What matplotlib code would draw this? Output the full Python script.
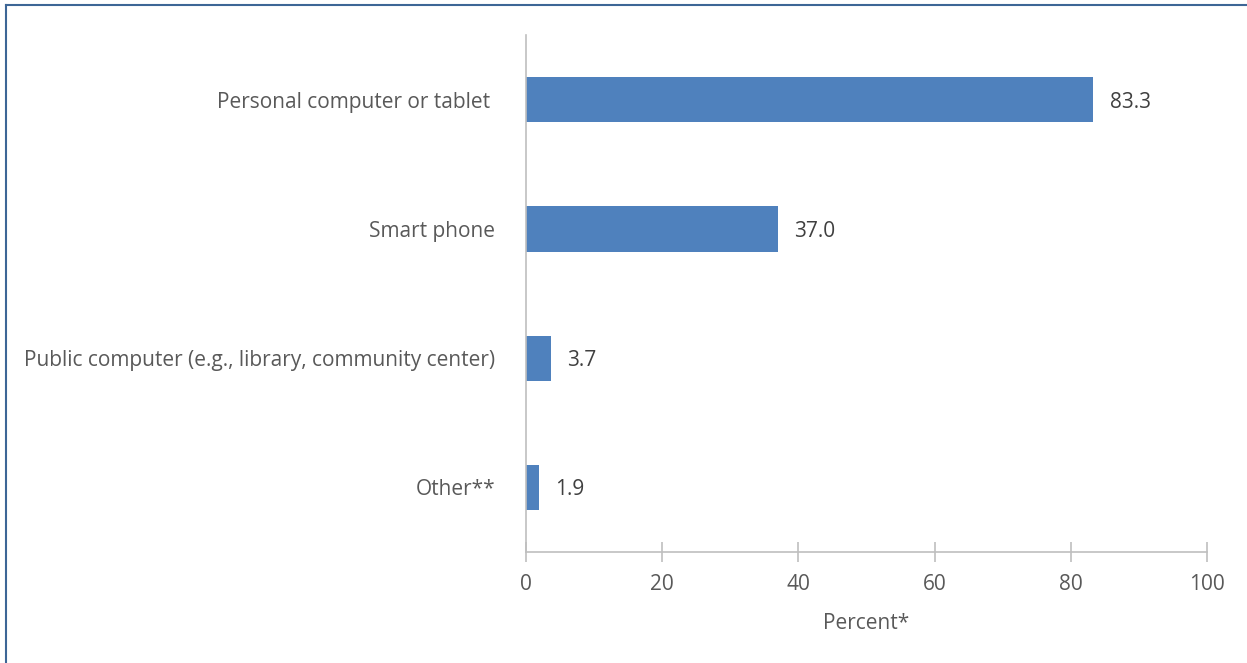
import matplotlib.pyplot as plt
from matplotlib.lines import Line2D

# Data
categories = ['Personal computer or tablet ', 'Smart phone',
              'Public computer (e.g., library, community center)', 'Other**']
percents = [83.3, 37.0, 3.7, 1.9]
x_ticks = [0, 20, 40, 60, 80, 100]

plt.rcParams['font.family'] = ['Open Sans', 'DejaVu Sans']
text_color = '#595959'
axis_color = '#bfbfbf'

fig = plt.figure(figsize=(12.47, 6.63), dpi=100)
ax = fig.add_axes([0.4218, 0.1674, 0.5461, 0.7798])

ypos = list(range(len(categories)))
ax.barh(ypos, percents, height=0.35, color='#4f81bd')
for y, v in zip(ypos, percents):
    ax.text(v + 2.4, y + 0.02, f'{v:.1f}', va='center', ha='left', fontsize=15, color='#404040')

ax.set_ylim(len(categories) - 0.5, -0.5)
ax.set_xlim(0, 100)
ax.set_yticks(ypos)
ax.set_yticklabels(categories, fontsize=15, color=text_color)
ax.set_xticks(x_ticks)
ax.set_xticklabels([str(t) for t in x_ticks], fontsize=15, color=text_color)
ax.tick_params(axis='y', length=0, pad=22)
ax.tick_params(axis='x', direction='inout', length=14, width=1.2, color=axis_color, pad=9)
ax.set_xlabel('Percent*', fontsize=15, color=text_color, labelpad=13)

for side in ['top', 'right']:
    ax.spines[side].set_visible(False)
for side in ['left', 'bottom']:
    ax.spines[side].set_color(axis_color)
    ax.spines[side].set_linewidth(1.2)

# Outer frame lines on the left and top edges
border = '#3d6696'
fig.add_artist(Line2D([6 / 1247, 6 / 1247], [0, 1 - 5 / 663], transform=fig.transFigure, color=border, lw=1.5))
fig.add_artist(Line2D([6 / 1247, 1], [1 - 5 / 663, 1 - 5 / 663], transform=fig.transFigure, color=border, lw=1.5))

fig.savefig('out.png', dpi=100)
